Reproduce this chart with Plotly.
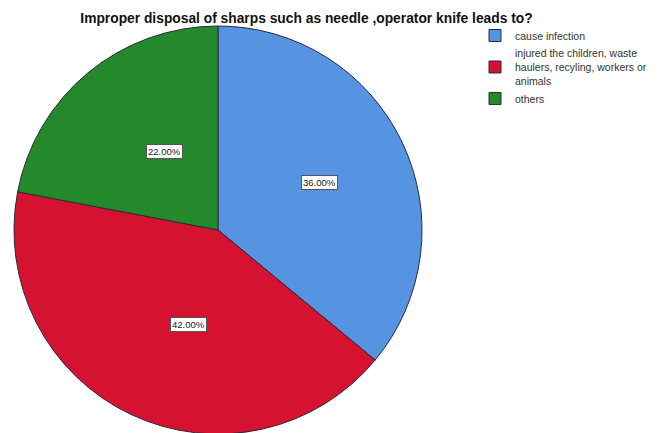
import math
import plotly.graph_objects as go

categories = ["cause infection",
              "injured the children, waste<br>haulers, recyling, workers or<br>animals",
              "others"]
values = [36.0, 42.0, 22.0]
colors = ["#5694E2", "#D51230", "#24892B"]
title_text = "Improper disposal of sharps such as needle ,operator knife leads to?"

W, H = 658, 433
# pie square in figure pixels (page adds an 8px body margin)
dom_x = [6 / W, 414 / W]
dom_y = [1 - 426 / H, 1 - 18 / H]

fig = go.Figure(go.Pie(
    labels=categories, values=values, sort=False, direction="clockwise", rotation=0,
    marker=dict(colors=colors, line=dict(color="#2a2a3a", width=1)),
    textinfo="none", hoverinfo="label+percent",
    domain=dict(x=dom_x, y=dom_y),
))

# label boxes placed at slice mid-angles
cx = (dom_x[0] + dom_x[1]) / 2 * W
cy = (1 - (dom_y[0] + dom_y[1]) / 2) * H
R = min((dom_x[1] - dom_x[0]) * W, (dom_y[1] - dom_y[0]) * H) / 2
total = sum(values)
cum = 0
annotations = []
for v in values:
    mid = (cum + v / 2) / total * 2 * math.pi
    cum += v
    px = cx + 0.55 * R * math.sin(mid)
    py = cy - 0.55 * R * math.cos(mid)
    annotations.append(dict(
        x=px / W, y=1 - py / H, xref="paper", yref="paper",
        text=f"{v / total * 100:.2f}%", showarrow=False,
        font=dict(family="Liberation Sans, Arial", size=9.5, color="#222222"),
        bgcolor="white", bordercolor="#555555", borderwidth=1, borderpad=1,
    ))

fig.update_layout(
    width=W, height=H,
    margin=dict(l=0, r=0, t=0, b=0),
    paper_bgcolor="white", plot_bgcolor="white",
    title=dict(text=f"<b>{title_text}</b>", x=298.5 / W, xanchor="center",
               y=1 - 10.5 / H, yanchor="middle",
               font=dict(family="Liberation Sans, Arial", size=13.8, color="#111111")),
    legend=dict(x=467 / W, y=1 - 13 / H, xanchor="left", yanchor="top",
                font=dict(family="Liberation Sans, Arial", size=10.5, color="#333333"),
                itemwidth=30, tracegroupgap=0, traceorder="normal"),
    annotations=annotations,
)

fig.write_html("out.html")
